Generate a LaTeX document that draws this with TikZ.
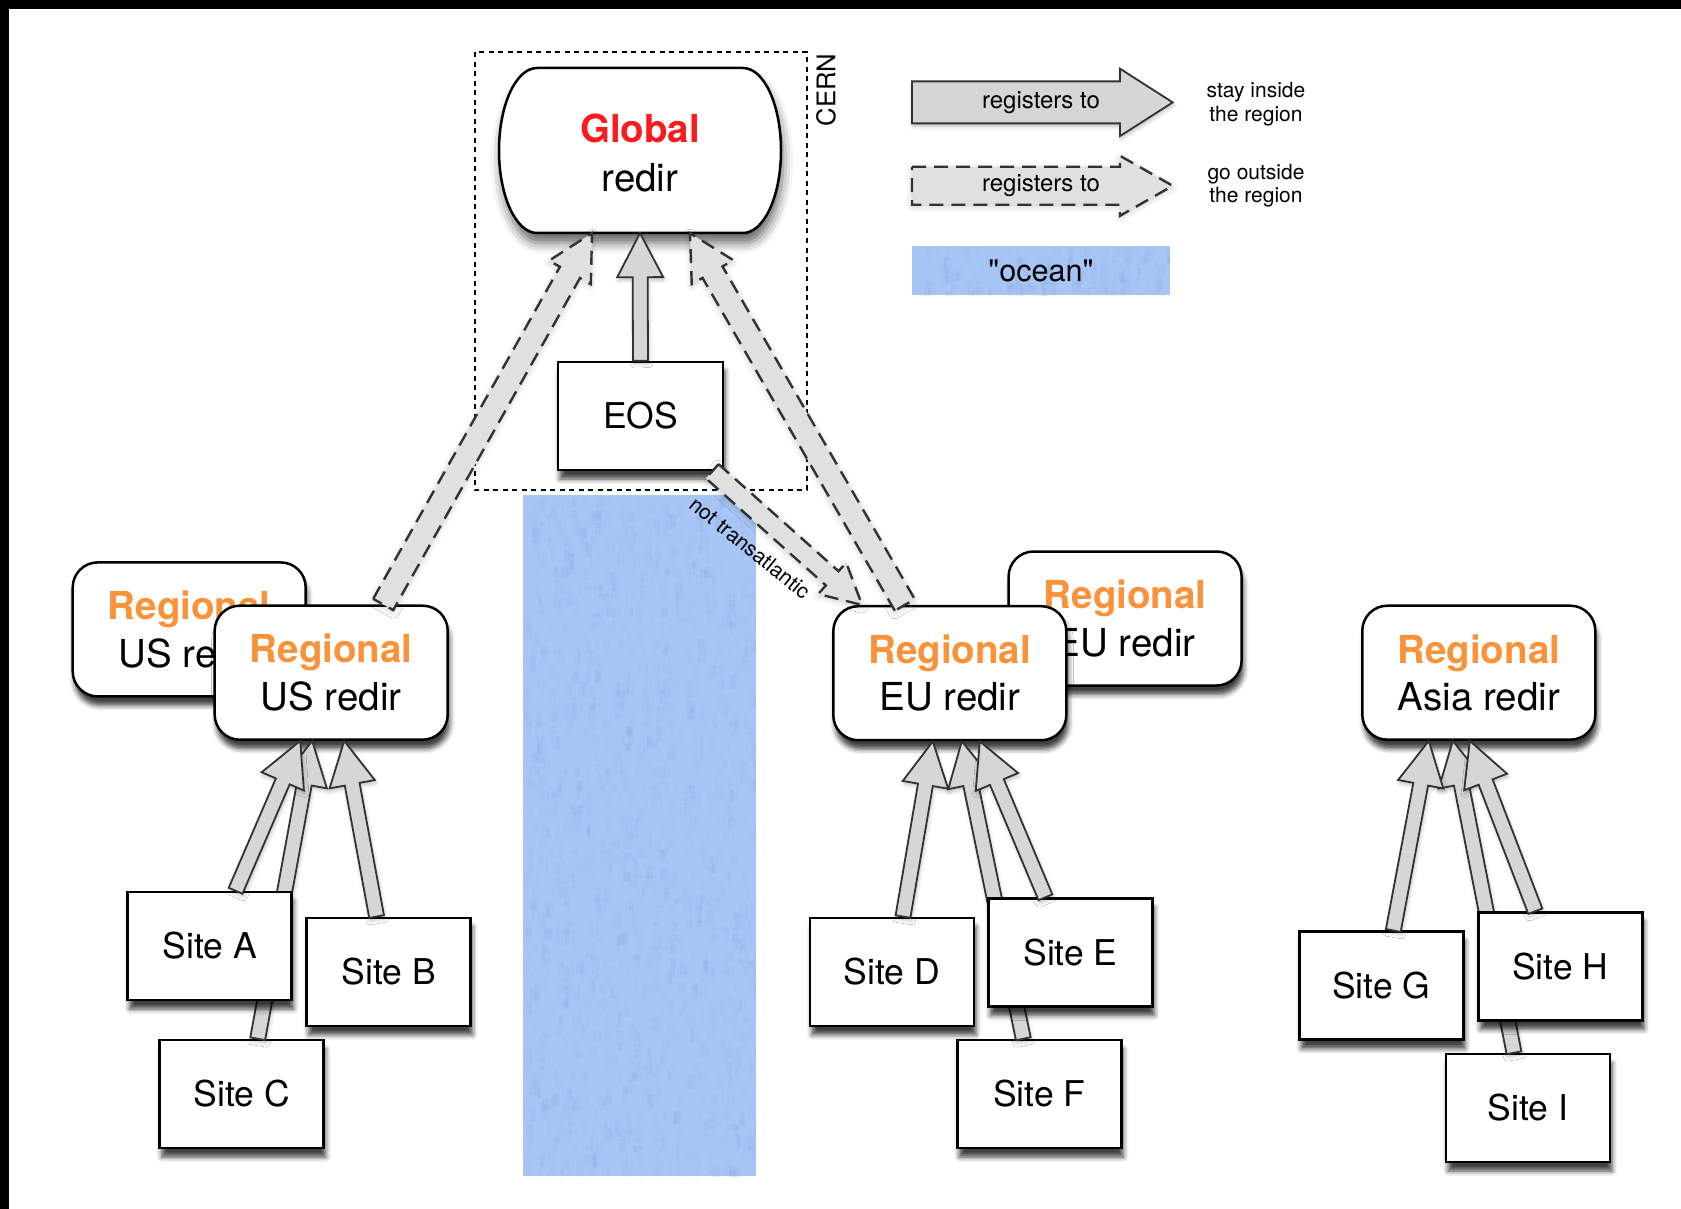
\documentclass[tikz,border=0pt]{standalone}
\usepackage{fontspec}
\setmainfont{TeX Gyre Heros}
\newfontfamily\plainheros{TeX Gyre Heros}
\usetikzlibrary{calc,shadows.blur}
\definecolor{regorange}{RGB}{250,146,58}
\definecolor{globred}{RGB}{250,28,28}
\definecolor{oceanblue}{RGB}{168,198,245}
\definecolor{oceandark}{RGB}{120,150,215}
\definecolor{arrfill}{RGB}{214,214,214}
\definecolor{dashfill}{RGB}{224,224,224}
\definecolor{arrline}{RGB}{50,50,50}
% block arrow: #1 style, #2 from, #3 to, #4 shaft half width, #5 wing half width, #6 head length
\newcommand{\blockarr}[6]{%
  \coordinate (bah) at ($(#3)!#6!(#2)$);
  \path[#1] ($(#2)!#4!90:(#3)$) -- ($(bah)!#4!90:(#3)$) -- ($(bah)!#5!90:(#3)$) -- (#3)
     -- ($(bah)!#5!-90:(#3)$) -- ($(bah)!#4!-90:(#3)$) -- ($(#2)!#4!-90:(#3)$) -- cycle;
}
% mottled texture: #1 x0, #2 y0, #3 width, #4 height, #5 count
\newcommand{\oceantexture}[5]{%
  \begin{scope}
    \clip (#1,#2) rectangle ++(#3,#4);
    \foreach \k in {1,...,#5}{
      \pgfmathsetmacro\rx{#1+#3*rnd}
      \pgfmathsetmacro\ry{#2+#4*rnd}
      \pgfmathsetmacro\rw{3+5*rnd}
      \pgfmathsetmacro\rh{6+10*rnd}
      \fill[oceandark, opacity=0.08] (\rx,\ry) rectangle ++(\rw,\rh);
    }
  \end{scope}
}
\tikzset{
  nodeshadow/.style={blur shadow={shadow xshift=2pt, shadow yshift=-9pt, shadow blur radius=5pt, shadow opacity=75}},
  site/.style={draw=black, line width=2.5pt, fill=white, minimum width=164pt, minimum height=108pt,
    inner sep=0pt, font=\fontsize{35.5}{42}\selectfont, nodeshadow},
  regio/.style={draw=black, line width=2.5pt, fill=white, rounded corners=25pt, minimum width=233pt,
    minimum height=134pt, inner sep=0pt, align=center, font=\fontsize{38.5}{47.5}\selectfont, nodeshadow},
  globtext/.style={minimum width=282pt, minimum height=165pt, inner sep=0pt},
  solidarr/.style={fill=arrfill, draw=arrline, line width=1.8pt, line join=miter,
    blur shadow={shadow xshift=1pt, shadow yshift=-3pt, shadow blur radius=4pt, shadow opacity=25}},
  dasharr/.style={fill=dashfill, draw=arrline, line width=2.4pt, dash pattern=on 14pt off 8pt, line join=miter,
    blur shadow={shadow xshift=0pt, shadow yshift=-2pt, shadow blur radius=6pt, shadow opacity=20}},
  legtxt/.style={inner sep=0pt, font=\fontsize{24}{28}\selectfont},
  legnote/.style={inner sep=0pt, align=center, font=\fontsize{21}{23.5}\selectfont},
}
\begin{document}
\begin{tikzpicture}[x=1pt, y=-1pt]
\useasboundingbox (0,0) rectangle (1681,1209);
\pgfmathsetseed{4242}
% frame bands
\fill[black] (0,0) rectangle (1681,9);
\fill[black] (0,0) rectangle (9,1209);
% ocean
\fill[oceanblue] (523,495) rectangle (756,1176);
\oceantexture{523}{495}{233}{681}{1400}
% CERN box
\draw[line width=2pt, dash pattern=on 5pt off 4.5pt] (474.5,52.5) rectangle (806.5,490);
\node[rotate=90, inner sep=0pt, font=\fontsize{25.7}{30}\selectfont] (cern) at (826,90) {CERN};

% legend
\coordinate (l1s) at (912,102.4); \coordinate (l1e) at (1172.7,102.4);
\blockarr{solidarr}{l1s}{l1e}{21pt}{33.7pt}{52.7pt}
\node[legtxt] (l1t) at (1041,102.4) {registers to};
\coordinate (l2s) at (912,185.8); \coordinate (l2e) at (1172.7,185.8);
\blockarr{dasharr}{l2s}{l2e}{19pt}{30pt}{52.7pt}
\node[legtxt] (l2t) at (1041,185.8) {registers to};
\node[legnote] (stay) at (1256,104) {stay inside\\the region};
\node[legnote] (go) at (1256,185.5) {go outside\\the region};
\fill[oceanblue] (912,246) rectangle (1170,295);
\oceantexture{912}{246}{258}{49}{170}
\node[inner sep=0pt, font=\plainheros\fontsize{30.6}{34}\selectfont] (oceanleg) at (1041,270.5) {"ocean"};

% global redirector
\filldraw[fill=white, draw=black, line width=2.5pt,
  blur shadow={shadow xshift=2pt, shadow yshift=-10pt, shadow blur radius=10pt, shadow opacity=60}]
  (537,68) -- (743,68) .. controls (764,68) and (781,104.9) .. (781,150.5)
  .. controls (781,196.1) and (764,233) .. (743,233) -- (537,233)
  .. controls (516,233) and (499,196.1) .. (499,150.5)
  .. controls (499,104.9) and (516,68) .. (537,68) -- cycle;
\node[globtext] (glob) at (640,150.5) {};
\node[inner sep=0pt, align=center, font=\fontsize{38.5}{49.5}\selectfont] (globlbl) at (640,153)
  {\textcolor{globred}{\bfseries Global}\\redir};

% EOS
\node[site, minimum width=165pt] (eos) at (640.5,416) {EOS};

% regional redirectors
\node[regio] (usB) at (189.2,629.4) {\textcolor{regorange}{\bfseries Regional}\\US redir};
\node[regio] (usF) at (331.2,672.7) {\textcolor{regorange}{\bfseries Regional}\\US redir};
\node[regio] (euB) at (1125.1,618.5) {\textcolor{regorange}{\bfseries Regional}\\EU redir};
\node[regio] (euF) at (949.8,673.2) {\textcolor{regorange}{\bfseries Regional}\\EU redir};
\node[regio] (asia) at (1478.8,672.7) {\textcolor{regorange}{\bfseries Regional}\\Asia redir};

% sites hidden partly behind others
\node[site] (siteC) at (241.7,1094) {Site C};
\node[site] (siteF) at (1039.3,1094) {Site F};
\node[site] (siteI) at (1528,1108) {Site I};

\coordinate (cS) at ([xshift=16pt]siteC.north);  \coordinate (cE) at ([xshift=-19pt]usF.south);
\coordinate (fS) at ([xshift=-16pt]siteF.north); \coordinate (fE) at ([xshift=12pt]euF.south);
\coordinate (iS) at ([xshift=-14pt]siteI.north); \coordinate (iE) at ([xshift=-26pt]asia.south);
\blockarr{solidarr}{cS}{cE}{7.5pt}{23pt}{44pt}
\blockarr{solidarr}{fS}{fE}{7.5pt}{23pt}{44pt}
\blockarr{solidarr}{iS}{iE}{7.5pt}{23pt}{44pt}

\node[site] (siteA) at (209.6,946) {Site A};
\node[site] (siteB) at (388.6,971.8) {Site B};
\node[site] (siteD) at (892,971.8) {Site D};
\node[site] (siteE) at (1070.4,952.5) {Site E};
\node[site] (siteG) at (1381.3,985.7) {Site G};
\node[site] (siteH) at (1560.3,966.4) {Site H};

\coordinate (aS) at ([xshift=26pt]siteA.north);  \coordinate (aE) at ([xshift=-31pt]usF.south);
\coordinate (bS) at ([xshift=-12pt]siteB.north); \coordinate (bE) at ([xshift=13pt]usF.south);
\coordinate (dS) at ([xshift=11pt]siteD.north);  \coordinate (dE) at ([xshift=-17pt]euF.south);
\coordinate (eS) at ([xshift=-25pt]siteE.north); \coordinate (eE) at ([xshift=30pt]euF.south);
\coordinate (gS) at ([xshift=12pt]siteG.north);  \coordinate (gE) at ([xshift=-50pt]asia.south);
\coordinate (hS) at ([xshift=-25pt]siteH.north); \coordinate (hE) at ([xshift=-9pt]asia.south);
\blockarr{solidarr}{aS}{aE}{7.5pt}{23pt}{44pt}
\blockarr{solidarr}{bS}{bE}{7.5pt}{23pt}{44pt}
\blockarr{solidarr}{dS}{dE}{7.5pt}{23pt}{44pt}
\blockarr{solidarr}{eS}{eE}{7.5pt}{23pt}{44pt}
\blockarr{solidarr}{gS}{gE}{7.5pt}{23pt}{44pt}
\blockarr{solidarr}{hS}{hE}{7.5pt}{23pt}{44pt}

% EOS -> global
\coordinate (eosS) at (eos.north); \coordinate (eosE) at (glob.south);
\blockarr{solidarr}{eosS}{eosE}{7.5pt}{23pt}{44pt}

% dashed: outside region
\coordinate (ugS) at ([xshift=52pt]usF.north);  \coordinate (ugE) at ([xshift=-48pt]glob.south);
\coordinate (egS) at ([xshift=-45pt]euF.north); \coordinate (egE) at ([xshift=50pt]glob.south);
\coordinate (oeS) at ([xshift=-12pt]eos.south east); \coordinate (oeE) at ([xshift=30pt]euF.north west);
\blockarr{dasharr}{ugS}{ugE}{11.5pt}{24pt}{45pt}
\blockarr{dasharr}{egS}{egE}{11.5pt}{24pt}{45pt}
\blockarr{dasharr}{oeS}{oeE}{9.5pt}{21pt}{40pt}
\node[rotate=-39, inner sep=0pt, font=\fontsize{21}{24}\selectfont] (nt) at (750,548) {not transatlantic};
\end{tikzpicture}
\end{document}
